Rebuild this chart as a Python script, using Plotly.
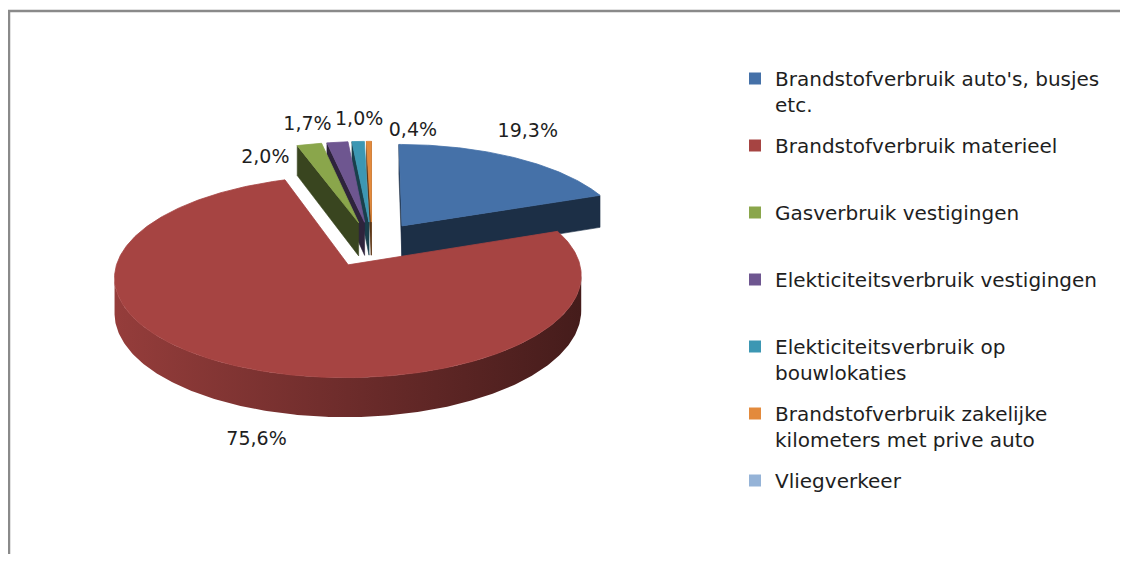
import numpy as np
import plotly.graph_objects as go

# ---------------- data ----------------
categories = [
    "Brandstofverbruik auto's, busjes etc.",
    "Brandstofverbruik materieel",
    "Gasverbruik vestigingen",
    "Elekticiteitsverbruik vestigingen",
    "Elekticiteitsverbruik op bouwlokaties",
    "Brandstofverbruik zakelijke kilometers met prive auto",
    "Vliegverkeer",
]
legend_text = [
    "Brandstofverbruik auto's, busjes<br>etc.",
    "Brandstofverbruik materieel<br>\u00a0",
    "Gasverbruik vestigingen<br>\u00a0",
    "Elekticiteitsverbruik vestigingen<br>\u00a0",
    "Elekticiteitsverbruik op<br>bouwlokaties",
    "Brandstofverbruik zakelijke<br>kilometers met prive auto",
    "Vliegverkeer<br>\u00a0",
]
values = [19.3, 75.6, 2.0, 1.7, 1.0, 0.4, 0.0]
value_labels = ["19,3%", "75,6%", "2,0%", "1,7%", "1,0%", "0,4%", "0,0%"]

# ---------------- style ----------------
colors = ["#4571A8", "#A64442", "#8AA64B", "#6E5690", "#3C97B3", "#E38A3C", "#95B3D7"]
label_offsets = [(13, -25), (23, 75), (-44, 14), (-30, -17), (1, -21), (44, -10), (0, 0)]
FONT = "DejaVu Sans"

W, H = 1128, 562
OFF = 8                     # page body margin of the html page
PW, PH = W - 2 * OFF, H - 2 * OFF
CX, CY = 372.0, 244.0      # projected pie centre (px)
A, B = 226.0, 94.7         # ellipse radii
K = 0.1147                 # perspective strength
T = 34.0                   # thickness
EXPLODE = 0.238


def proj(u, v, z=0.0):
    s = 1.0 / (1.0 + K * v)
    return CX + A * u * s, CY - B * v * s + T * z * s


def shade(hexcol, f):
    h = hexcol.lstrip("#")
    r, g, b = (int(h[i:i + 2], 16) for i in (0, 2, 4))
    return "#%02x%02x%02x" % (int(r * f), int(g * f), int(b * f))


total = sum(values)
cum = np.concatenate([[0], np.cumsum(values)]) / total * 360.0

slices = []
for i, val in enumerate(values):
    if val <= 0:
        continue
    t0, t1 = cum[i], cum[i + 1]
    tm = np.radians((t0 + t1) / 2)
    cu, cv = EXPLODE * np.sin(tm), EXPLODE * np.cos(tm)
    slices.append((cv, i, t0, t1, cu))

# far slices first
slices.sort(key=lambda s: -s[0])

fig = go.Figure()

# data labels (drawn first so the pie can cover them, as in the original)
for cv, i, t0, t1, cu in slices:
    tm = np.radians((t0 + t1) / 2)
    bx, by = proj(cu + np.sin(tm), cv + np.cos(tm))
    dx, dy = label_offsets[i]
    fig.add_trace(go.Scatter(
        x=[bx + dx], y=[by + dy], mode="text", text=[value_labels[i]],
        textfont=dict(family=FONT, size=19, color="#1e1e1e"),
        textposition="middle center", showlegend=False, hoverinfo="skip"))

cam_u, cam_v = 0.0, -1.0 / K

for cv, i, t0, t1, cu in slices:
    col = colors[i]
    dark = shade(col, 0.42)
    n = max(3, int((t1 - t0) / 0.7) + 2)
    ts = np.radians(np.linspace(t0, t1, n))
    pu = cu + np.sin(ts)
    pv = cv + np.cos(ts)

    # outer wall (visible part)
    vis = np.sin(ts) * (cam_u - pu) + np.cos(ts) * (cam_v - pv) > 0
    idx = np.where(vis)[0]
    if len(idx) > 1:
        runs = np.split(idx, np.where(np.diff(idx) != 1)[0] + 1)
        for run in runs:
            if len(run) < 2:
                continue
            xt, yt = proj(pu[run], pv[run], 0)
            xb, yb = proj(pu[run], pv[run], 1)
            xs = np.concatenate([xt, xb[::-1], xt[:1]])
            ys = np.concatenate([yt, yb[::-1], yt[:1]])
            fig.add_trace(go.Scatter(
                x=xs, y=ys, mode="lines", fill="toself",
                line=dict(width=0, color=shade(col, 0.65)),
                fillgradient=dict(type="horizontal",
                                  colorscale=[[0, shade(col, 0.90)],
                                              [0.5, shade(col, 0.66)],
                                              [1, shade(col, 0.42)]]),
                showlegend=False, hoverinfo="skip"))

    # radial faces
    faces = []
    if (-np.cos(ts[0])) * (cam_u - cu) + np.sin(ts[0]) * (cam_v - cv) > 0:
        faces.append(ts[0])
    if np.cos(ts[-1]) * (cam_u - cu) + (-np.sin(ts[-1])) * (cam_v - cv) > 0:
        faces.append(ts[-1])
    for t in faces:
        eu, ev = cu + np.sin(t), cv + np.cos(t)
        p = [proj(cu, cv, 0), proj(eu, ev, 0), proj(eu, ev, 1), proj(cu, cv, 1), proj(cu, cv, 0)]
        fig.add_trace(go.Scatter(
            x=[q[0] for q in p], y=[q[1] for q in p], mode="lines", fill="toself",
            fillcolor=dark, line=dict(width=0.6, color=dark),
            showlegend=False, hoverinfo="skip"))

    # top face
    xa, ya = proj(pu, pv, 0)
    xc, yc = proj(cu, cv, 0)
    xs = np.concatenate([[xc], xa, [xc]])
    ys = np.concatenate([[yc], ya, [yc]])
    fig.add_trace(go.Scatter(
        x=xs, y=ys, mode="lines", fill="toself", fillcolor=col,
        line=dict(width=0.8, color=col), showlegend=False, hoverinfo="skip"))

# legend entries
for i, name in enumerate(categories):
    fig.add_trace(go.Scatter(
        x=[None], y=[None], mode="markers", name=legend_text[i],
        legendgroup=str(i),
        marker=dict(symbol="square", size=12, color=colors[i]),
        hoverinfo="skip"))

# chart border (left and top visible, as in the cropped original)
fig.add_shape(type="line", x0=9, x1=9, y0=11, y1=H + 5, xref="x", yref="y",
              line=dict(color="#8a8a8a", width=2.5))
fig.add_shape(type="line", x0=8, x1=W + 5, y0=11, y1=11, xref="x", yref="y",
              line=dict(color="#8a8a8a", width=2.5))

fig.update_layout(
    width=PW, height=PH, autosize=False,
    margin=dict(l=0, r=0, t=0, b=0),
    paper_bgcolor="white", plot_bgcolor="white",
    xaxis=dict(range=[OFF, OFF + PW], visible=False, fixedrange=True),
    yaxis=dict(range=[OFF + PH, OFF], visible=False, fixedrange=True),
    showlegend=True,
    legend=dict(x=(735 - OFF) / PW, xanchor="left", y=1 - (59 - OFF) / PH, yanchor="top",
                font=dict(family=FONT, size=20, color="#1e1e1e"),
                valign="top", tracegroupgap=12, itemsizing="constant",
                bgcolor="rgba(0,0,0,0)"),
)

fig.write_html("out.html")
